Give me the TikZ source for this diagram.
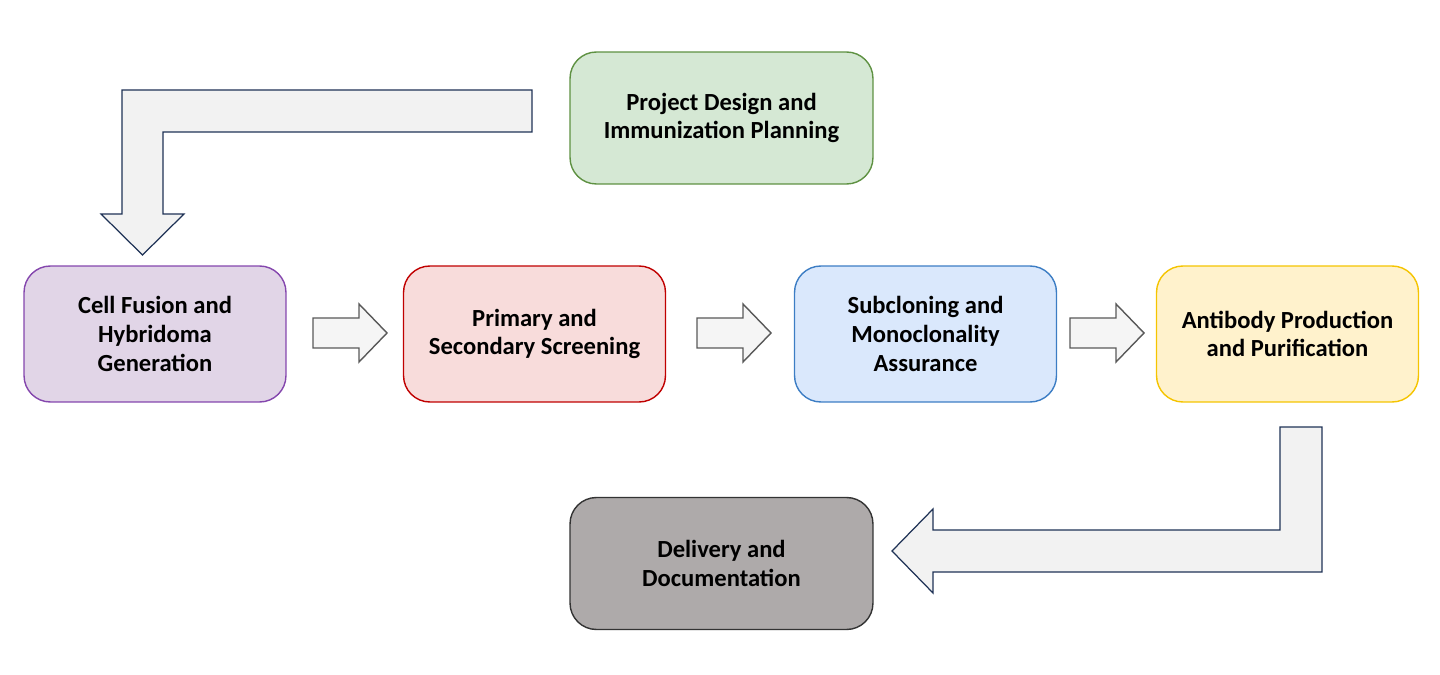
\documentclass[tikz,border=0pt]{standalone}
\usepackage{fontspec}
\setmainfont{Carlito}
\usepackage{xcolor}
\usetikzlibrary{positioning, calc}

\definecolor{greenfill}{HTML}{D5E8D4}
\definecolor{greenline}{HTML}{5E9142}
\definecolor{purplefill}{HTML}{E1D5E7}
\definecolor{purpleline}{HTML}{8446AD}
\definecolor{redfill}{HTML}{F8DCDB}
\definecolor{redline}{HTML}{C00000}
\definecolor{bluefill}{HTML}{DAE8FC}
\definecolor{blueline}{HTML}{3C7DC4}
\definecolor{yellowfill}{HTML}{FFF2CC}
\definecolor{yellowline}{HTML}{F5C400}
\definecolor{greyfill}{HTML}{AEAAAA}
\definecolor{greyline}{HTML}{333333}
\definecolor{arrowfill}{HTML}{F2F2F2}
\definecolor{arrowline}{HTML}{1F3256}

\tikzset{
  stage/.style={draw, rounded corners=20pt*0.75, line width=0.8pt, align=center,
    minimum width=5.24cm, minimum height=2.72cm, inner sep=0pt,
    font=\fontsize{14}{16.4}\selectfont\bfseries},
  widestage/.style={stage, minimum width=6.06cm, minimum height=2.64cm},
  bigarrow/.style={draw=arrowline, fill=arrowfill, line width=0.7pt},
  smallarrow/.style={draw=black!65, fill=black!4, line width=0.8pt}
}

% small block arrow, left end at x=#1
\newcommand{\steparrow}[1]{%
  \draw[smallarrow] (#1,318) -- ++(46,0) -- ++(0,-14) -- ++(28,29)
    -- ++(-28,29) -- ++(0,-14) -- ++(-46,0) -- cycle;}

\begin{document}
\begin{tikzpicture}[x=0.02cm, y=-0.02cm]
\useasboundingbox (0,0) rectangle (1440,675);

% Stages
\node[widestage, fill=greenfill, draw=greenline] (design) at (721.5,118)
  {Project Design and\\Immunization Planning};
\node[stage, fill=purplefill, draw=purpleline] (fusion) at (155,334)
  {Cell Fusion and\\Hybridoma\\Generation};
\node[stage, fill=redfill, draw=redline] (screen) at (534.5,334)
  {Primary and\\Secondary Screening};
\node[stage, fill=bluefill, draw=blueline] (subclone) at (925.5,334)
  {Subcloning and\\Monoclonality\\Assurance};
\node[stage, fill=yellowfill, draw=yellowline] (produce) at (1287.5,334)
  {Antibody Production\\and Purification};
\node[widestage, fill=greyfill, draw=greyline] (deliver) at (721.5,563.5)
  {Delivery and\\Documentation};

% Bent arrow: design -> fusion
\draw[bigarrow] (532,90) -- (122,90) -- (122,214) -- (101,214) -- (142.5,255)
  -- (184,214) -- (163,214) -- (163,132) -- (532,132) -- cycle;

% Step arrows between stages
\steparrow{313}
\steparrow{697}
\steparrow{1070}

% Bent arrow: produce -> deliver
\draw[bigarrow] (1280,427) -- (1322,427) -- (1322,572) -- (933,572) -- (933,593)
  -- (892,551) -- (933,509) -- (933,530) -- (1280,530) -- cycle;
\end{tikzpicture}
\end{document}
